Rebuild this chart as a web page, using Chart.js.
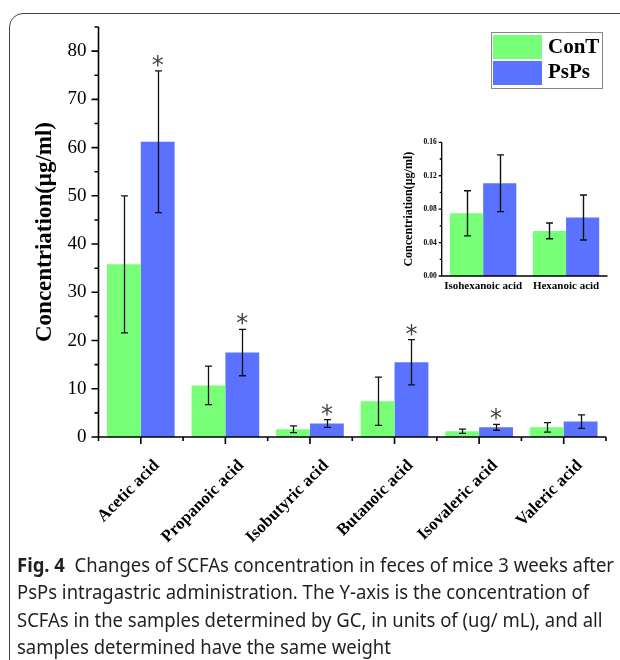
<!DOCTYPE html>
<html>
<head>
<meta charset="utf-8">
<script src="https://cdn.jsdelivr.net/npm/chart.js@4.4.0/dist/chart.umd.min.js"></script>
<style>
body { margin: 0; background: #fff; }
#wrap { position: relative; width: 620px; height: 660px; overflow: hidden; }
#frame { position: absolute; left: 9px; top: 13px; width: 700px; height: 700px; border: 1.5px solid #444; border-radius: 14px; }
#main { position: absolute; left: 0; top: 0; }
#inset { position: absolute; left: 380px; top: 120px; }
#caption { position: absolute; left: 17px; top: 551px; font-family: 'Noto Sans'; font-size: 20px; line-height: 27.4px; color: #231f20; white-space: nowrap; transform-origin: 0 0; }
</style>
</head>
<body>
<div id="wrap">
  <div id="frame"></div>
  <canvas id="main" width="620" height="560"></canvas>
  <canvas id="inset" width="240" height="190"></canvas>
  <div id="caption">
    <div id="line1"><b>Fig. 4</b>&nbsp; Changes of SCFAs concentration in feces of mice 3 weeks after</div>
    <div>PsPs intragastric administration. The Y-axis is the concentration of</div>
    <div>SCFAs in the samples determined by GC, in units of (ug/ mL), and all</div>
    <div>samples determined have the same weight</div>
  </div>
</div>
<script>
// Main chart data
var categories = ['Acetic acid', 'Propanoic acid', 'Isobutyric acid', 'Butanoic acid', 'Isovaleric acid', 'Valeric acid'];
var contMean = [35.8, 10.7, 1.6, 7.4, 1.2, 2.0];
var contErr = [14.2, 4.0, 0.7, 5.0, 0.45, 1.0];
var pspsMean = [61.2, 17.5, 2.8, 15.5, 2.0, 3.2];
var pspsErr = [14.7, 4.8, 0.8, 4.7, 0.6, 1.4];
var pspsStar = [true, true, true, true, true, false];

// Inset data
var insetCategories = ['Isohexanoic acid', 'Hexanoic acid'];
var insetContMean = [0.075, 0.054];
var insetContErr = [0.027, 0.0095];
var insetPspsMean = [0.111, 0.070];
var insetPspsErr = [0.034, 0.027];

var green = '#78FF78';
var blue = '#5A72FF';
var serif = 'Liberation Serif';

// caption width like the original
var line1 = document.getElementById('line1');
var r = document.createRange();
r.selectNodeContents(line1);
var w1 = r.getBoundingClientRect().width;
document.getElementById('caption').style.transform = 'scaleX(' + (597 / w1) + ')';

//Error bars + significance stars
var errorBars = {
    id: 'errorBars',
    afterDatasetsDraw: function (chart, args, o) {
        var ctx = chart.ctx;
        var ys = chart.scales.y;
        ctx.save();
        chart.data.datasets.forEach(function (ds, i) {
            var meta = chart.getDatasetMeta(i);
            meta.data.forEach(function (bar, j) {
                var v = ds.data[j], e = ds.errors[j];
                var top = ys.getPixelForValue(v + e);
                var bot = ys.getPixelForValue(v - e);
                var x = Math.round(bar.x) + 0.5;
                ctx.strokeStyle = '#111';
                ctx.lineWidth = o.lineWidth;
                ctx.beginPath();
                ctx.moveTo(x, top); ctx.lineTo(x, bot);
                ctx.moveTo(x - o.cap, top); ctx.lineTo(x + o.cap, top);
                ctx.moveTo(x - o.cap, bot); ctx.lineTo(x + o.cap, bot);
                ctx.stroke();
                if (ds.stars && ds.stars[j]) {
                    ctx.font = '24px "DejaVu Sans"';
                    ctx.fillStyle = '#444';
                    ctx.textAlign = 'center';
                    ctx.textBaseline = 'alphabetic';
                    var m = ctx.measureText('*');
                    var cy = top - 10;
                    ctx.fillText('*', bar.x, cy - (m.actualBoundingBoxDescent - m.actualBoundingBoxAscent) / 2);
                }
            });
        });
        ctx.restore();
    }
};

//Axis lines with major / minor ticks
var axesDraw = {
    id: 'axesDraw',
    afterDraw: function (chart, args, o) {
        var ctx = chart.ctx, a = chart.chartArea;
        var xs = chart.scales.x, ys = chart.scales.y;
        ctx.save();
        ctx.strokeStyle = '#000';
        ctx.lineWidth = o.lineWidth;
        ctx.beginPath();
        ctx.moveTo(a.left, a.top);
        ctx.lineTo(a.left, a.bottom);
        ctx.lineTo(a.right, a.bottom);
        var n = Math.round((ys.max - ys.min) / o.minorStep);
        for (var k = 0; k <= n; k++) {
            var py = ys.getPixelForValue(ys.min + k * o.minorStep);
            var len = (k % o.minorPerMajor === 0) ? o.major : o.minor;
            ctx.moveTo(a.left, py);
            ctx.lineTo(a.left - len, py);
        }
        if (o.xTicks) {
            var w = (a.right - a.left) / chart.data.labels.length;
            chart.data.labels.forEach(function (l, i) {
                var px = xs.getPixelForValue(i);
                ctx.moveTo(px, a.bottom); ctx.lineTo(px, a.bottom + o.major);
                ctx.moveTo(px + w / 2, a.bottom); ctx.lineTo(px + w / 2, a.bottom + o.minor);
                if (i === 0) { ctx.moveTo(px - w / 2, a.bottom); ctx.lineTo(px - w / 2, a.bottom + o.minor); }
            });
        }
        ctx.stroke();
        // rotated category labels
        if (o.slantLabels) {
            ctx.fillStyle = '#000';
            ctx.font = 'bold 17px "' + serif + '"';
            ctx.textAlign = 'right';
            ctx.textBaseline = 'middle';
            chart.data.labels.forEach(function (l, i) {
                ctx.save();
                ctx.translate(xs.getPixelForValue(i) + 16, a.bottom + 26);
                ctx.rotate(-Math.PI / 4);
                ctx.fillText(l, 0, 0);
                ctx.restore();
            });
        }
        ctx.restore();
    }
};

//Boxed legend top right
var boxLegend = {
    id: 'boxLegend',
    afterDraw: function (chart, args, o) {
        var ctx = chart.ctx;
        ctx.save();
        ctx.strokeStyle = '#888';
        ctx.lineWidth = 1;
        ctx.strokeRect(491.5, 32.5, 111, 56);
        ctx.font = 'bold 21px "' + serif + '"';
        ctx.textAlign = 'left';
        ctx.textBaseline = 'middle';
        chart.data.datasets.forEach(function (ds, i) {
            ctx.fillStyle = ds.backgroundColor;
            ctx.fillRect(493, 35 + i * 26, 49, 24);
            ctx.fillStyle = '#000';
            ctx.fillText(ds.label, 548, 48 + i * 25);
        });
        ctx.restore();
    }
};

var mainChart = new Chart(document.getElementById('main'), {
    type: 'bar',
    data: {
        labels: categories,
        datasets: [
            { label: 'ConT', data: contMean, errors: contErr, backgroundColor: green },
            { label: 'PsPs', data: pspsMean, errors: pspsErr, stars: pspsStar, backgroundColor: blue }
        ]
    },
    options: {
        responsive: false,
        animation: false,
        layout: { padding: { top: 27, right: 14, left: 0, bottom: 0 } },
        datasets: { bar: { categoryPercentage: 0.8, barPercentage: 1.0 } },
        plugins: {
            legend: { display: false },
            tooltip: { enabled: false },
            errorBars: { lineWidth: 1.3, cap: 3.5 },
            axesDraw: { lineWidth: 1.6, minorStep: 5, minorPerMajor: 2, major: 7, minor: 4, xTicks: true, slantLabels: true }
        },
        scales: {
            x: {
                afterFit: function (s) { s.height = 123; s.paddingLeft = 0; s.paddingRight = 0; },
                grid: { display: false, drawTicks: false },
                border: { display: false },
                ticks: { display: false }
            },
            y: {
                min: 0,
                max: 85,
                afterBuildTicks: function (s) { s.ticks = s.ticks.filter(function (t) { return t.value % 10 === 0; }); },
                afterFit: function (s) { s.width = 98.5; },
                grid: { display: false, drawTicks: false },
                border: { display: false },
                ticks: { stepSize: 10, padding: 12, color: '#000', font: { family: serif, size: 19 } },
                title: {
                    display: true, text: 'Concentriation(μg/ml)', color: '#000',
                    font: { family: serif, size: 23, weight: 'bold' }, padding: { top: 31, bottom: 0 }
                }
            }
        }
    },
    plugins: [errorBars, axesDraw, boxLegend]
});

var insetChart = new Chart(document.getElementById('inset'), {
    type: 'bar',
    data: {
        labels: insetCategories,
        datasets: [
            { label: 'ConT', data: insetContMean, errors: insetContErr, backgroundColor: green },
            { label: 'PsPs', data: insetPspsMean, errors: insetPspsErr, backgroundColor: blue }
        ]
    },
    options: {
        responsive: false,
        animation: false,
        layout: { padding: { top: 22.3, right: 12.5, left: 0, bottom: 0 } },
        datasets: { bar: { categoryPercentage: 0.8, barPercentage: 1.0 } },
        plugins: {
            legend: { display: false },
            tooltip: { enabled: false },
            errorBars: { lineWidth: 1.4, cap: 3.5 },
            axesDraw: { lineWidth: 1.3, minorStep: 0.02, minorPerMajor: 2, major: 3, minor: 2, xTicks: false, slantLabels: false }
        },
        scales: {
            x: {
                afterFit: function (s) { s.height = 34; s.paddingLeft = 0; s.paddingRight = 0; },
                grid: { display: false, drawTicks: false },
                border: { display: false },
                ticks: { maxRotation: 0, padding: 4, color: '#000', font: { family: serif, size: 11, weight: 'bold' } }
            },
            y: {
                min: 0,
                max: 0.16,
                afterFit: function (s) { s.width = 61.7; },
                grid: { display: false, drawTicks: false },
                border: { display: false },
                ticks: {
                    stepSize: 0.04, padding: 5, color: '#000',
                    font: { family: serif, size: 7.5, weight: 'bold' },
                    callback: function (v) { return v.toFixed(2); }
                },
                title: {
                    display: true, text: 'Concentriation(μg/ml)', color: '#000',
                    font: { family: serif, size: 12, weight: 'bold' }, padding: { top: 22, bottom: 0 }
                }
            }
        }
    },
    plugins: [errorBars, axesDraw]
});
</script>
</body>
</html>
